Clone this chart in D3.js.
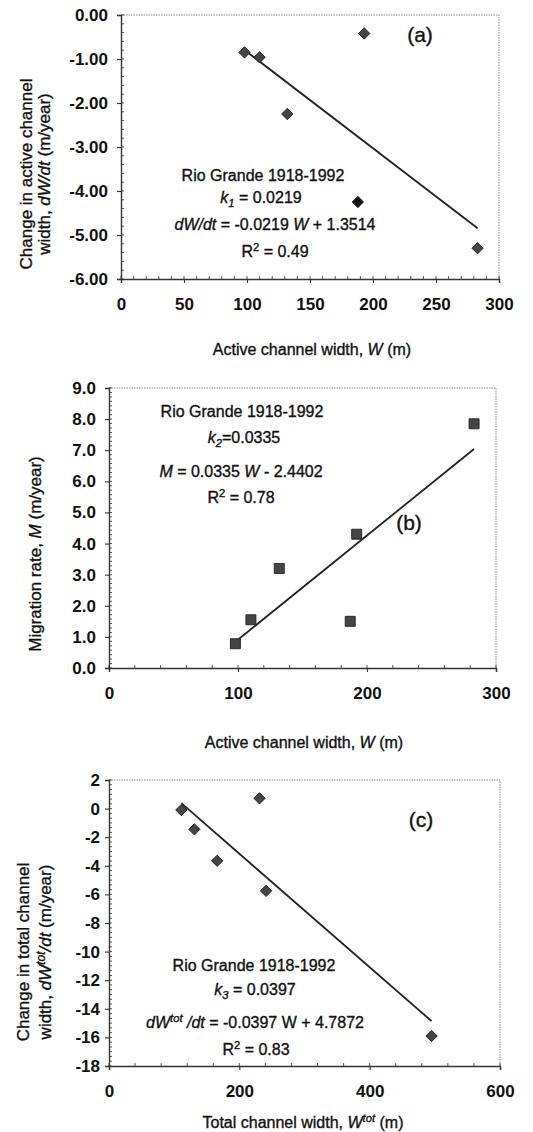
<!DOCTYPE html>
<html>
<head>
<meta charset="utf-8">
<script src="https://cdn.jsdelivr.net/npm/d3@7"></script>
<style>
  body { margin: 0; background: #fff; }
  svg { font-family: Arial, "Liberation Sans", sans-serif; fill: #111; }
</style>
</head>
<body>
<svg id="chart" width="533" height="1132"></svg>
<script>
// panel (a): active channel width vs change in width
var widthA = [98, 110, 132, 193, 188, 283];
var dWdtA = [-0.85, -0.96, -2.25, -0.42, -4.25, -5.30];
// panel (b): active channel width vs migration rate
var widthB = [98, 110, 132, 187, 192, 283];
var migrationB = [0.78, 1.55, 3.2, 1.5, 4.3, 7.85];
// panel (c): total channel width vs change in total width
var widthTotC = [111, 131, 166, 231, 241, 495];
var dWtotdtC = [-0.1, -1.45, -3.65, 0.72, -5.75, -15.9];

// regression lines: slope, intercept
var slopes = [-0.0219, 0.0335, -0.0397];
var intercepts = [1.3514, -2.4402, 4.7872];

var xTicksA = [0, 50, 100, 150, 200, 250, 300];
var yTicksA = [0, -1, -2, -3, -4, -5, -6];
var xTicksB = [0, 100, 200, 300];
var yTicksB = [0, 1, 2, 3, 4, 5, 6, 7, 8, 9];
var xTicksC = [0, 200, 400, 600];
var yTicksC = [2, 0, -2, -4, -6, -8, -10, -12, -14, -16, -18];

var svg = d3.select("#chart");

// write a line of text made of styled pieces (italic, sub, sup)
function rich(sel, parts) {
    var shift = 0;
    parts.forEach(function(p) {
        var t = sel.append("tspan").text(p.t);
        var want = p.sub ? 4 : (p.sup ? -6 : 0);
        if (want != shift) { t.attr("dy", want - shift); shift = want; }
        if (p.i) t.style("font-style", "italic");
        if (p.sub || p.sup) t.attr("font-size", "0.7em");
    });
    return sel;
}

function heavy(sel) {
    return sel.attr("fill", "#111").attr("stroke", "#111").attr("stroke-width", 0.35);
}

function panel(o) {
    var x = d3.scaleLinear().domain(o.xDomain).range([o.left, o.right]);
    var y = d3.scaleLinear().domain(o.yDomain).range([o.bottom, o.top]);
    var g = svg.append("g");

    // frame: light top/right
    g.append("path")
        .attr("d", "M" + o.left + "," + o.top + "H" + o.right + "V" + o.bottom)
        .attr("fill", "none").attr("stroke", "#8a8a8a").attr("stroke-width", 1)
        .attr("stroke-dasharray", "1.5,1");

    // minor ticks, inside
    var xMinor = d3.range(o.xDomain[0], o.xDomain[1] + 1e-9, o.xMinor);
    var yStep = (o.yTicks[1] - o.yTicks[0]) / o.yMinorN;
    var yMinor = d3.range(0, Math.round((o.yDomain[1] - o.yDomain[0]) / Math.abs(yStep)) + 1)
        .map(function(k) { return o.yDomain[0] + k * Math.abs(yStep); });
    g.selectAll(".xm").data(xMinor).enter().append("line")
        .attr("x1", function(d) { return x(d); }).attr("x2", function(d) { return x(d); })
        .attr("y1", o.bottom).attr("y2", o.bottom - 3)
        .attr("stroke", "#444").attr("stroke-width", 0.9);
    g.selectAll(".ym").data(yMinor).enter().append("line")
        .attr("y1", function(d) { return y(d); }).attr("y2", function(d) { return y(d); })
        .attr("x1", o.left).attr("x2", o.left + 3)
        .attr("stroke", "#444").attr("stroke-width", 0.9);

    // axes
    var xAxis = g.append("g").attr("transform", "translate(0," + o.bottom + ")")
        .call(d3.axisBottom(x).tickValues(o.xTicks).tickSize(4).tickPadding(o.xPad).tickFormat(d3.format("d")));
    var yAxis = g.append("g").attr("transform", "translate(" + o.left + ",0)")
        .call(d3.axisLeft(y).tickValues(o.yTicks).tickSize(4).tickPadding(o.yPad).tickFormat(d3.format(o.yFormat)));
    [xAxis, yAxis].forEach(function(a) {
        a.select(".domain").attr("stroke", "#333").attr("stroke-width", 1.4);
        a.selectAll(".tick line").attr("stroke", "#333").attr("stroke-width", 1.1);
        a.selectAll("text").attr("font-size", 17).attr("font-weight", "bold")
            .attr("fill", "#111").attr("font-family", "Arial, 'Liberation Sans', sans-serif");
    });
    yAxis.selectAll(".tick text").text(function(d) { return d3.format(o.yFormat)(d).replace("\u2212", "-"); });

    // trend line over the data range
    var xs = d3.extent(o.xs);
    var line = d3.line().x(function(d) { return x(d); }).y(function(d) { return y(o.slope * d + o.intercept); });
    g.append("path").datum(xs).attr("d", line)
        .attr("fill", "none").attr("stroke", "#222").attr("stroke-width", 1.8);

    // markers
    var sym = d3.symbol().type(d3.symbolSquare).size(o.square ? 100 : 64);
    g.selectAll(".pt").data(o.xs).enter().append("path")
        .attr("d", sym)
        .attr("transform", function(d, i) {
            return "translate(" + x(d) + "," + y(o.ys[i]) + ")" + (o.square ? "" : " rotate(45)");
        })
        .attr("fill", function(d, i) { return i == o.dark ? "#111" : "#454545"; })
        .attr("stroke", "#222").attr("stroke-width", 0.9);

    // annotation lines
    o.notes.forEach(function(n) {
        var t = g.append("text").attr("x", n.x).attr("y", n.y)
            .attr("text-anchor", "middle").attr("font-size", 16);
        heavy(rich(t, n.parts));
    });
    heavy(g.append("text").attr("x", o.tag[0]).attr("y", o.tag[1]).attr("text-anchor", "middle")
        .attr("font-size", 21).text(o.tag[2]));

    // axis titles
    var xt = g.append("text").attr("x", o.xTitle.x).attr("y", o.xTitle.y)
        .attr("text-anchor", "middle").attr("font-size", 16);
    heavy(rich(xt, o.xTitle.parts));
    o.yTitle.forEach(function(l) {
        var t = g.append("text")
            .attr("transform", "translate(" + l.x + "," + l.y + ") rotate(-90)")
            .attr("text-anchor", "middle").attr("font-size", 17);
        heavy(rich(t, l.parts));
    });
}

panel({
    left: 121, right: 499, top: 15, bottom: 279,
    xDomain: [0, 300], yDomain: [-6, 0], xTicks: xTicksA, yTicks: yTicksA,
    xMinor: 10, yMinorN: 5, yFormat: ".2f", xPad: 15, yPad: 9,
    xs: widthA, ys: dWdtA, dark: 4, slope: slopes[0], intercept: intercepts[0],
    tag: [420, 42, "(a)"],
    notes: [
        {x: 263, y: 181, parts: [{t: "Rio Grande 1918-1992"}]},
        {x: 261, y: 203, parts: [{t: "k", i: 1}, {t: "1", i: 1, sub: 1}, {t: " = 0.0219"}]},
        {x: 275, y: 230, parts: [{t: "dW/dt", i: 1}, {t: " = -0.0219 "}, {t: "W", i: 1}, {t: " + 1.3514"}]},
        {x: 275, y: 257, parts: [{t: "R"}, {t: "2", sup: 1}, {t: " = 0.49"}]}
    ],
    xTitle: {x: 312, y: 355, parts: [{t: "Active channel width, "}, {t: "W", i: 1}, {t: " (m)"}]},
    yTitle: [
        {x: 32, y: 174, parts: [{t: "Change in active channel"}]},
        {x: 50, y: 174, parts: [{t: "width, "}, {t: "dW/dt", i: 1}, {t: "  (m/year)"}]}
    ]
});

panel({
    left: 109, right: 496, top: 388, bottom: 668,
    xDomain: [0, 300], yDomain: [0, 9], xTicks: xTicksB, yTicks: yTicksB,
    xMinor: 20, yMinorN: 7, yFormat: ".1f", xPad: 15, yPad: 9,
    xs: widthB, ys: migrationB, square: true, dark: -1, slope: slopes[1], intercept: intercepts[1],
    tag: [409, 530, "(b)"],
    notes: [
        {x: 242, y: 417, parts: [{t: "Rio Grande 1918-1992"}]},
        {x: 244, y: 443, parts: [{t: "k", i: 1}, {t: "2", i: 1, sub: 1}, {t: "=0.0335"}]},
        {x: 241, y: 477, parts: [{t: "M", i: 1}, {t: " = 0.0335 "}, {t: "W", i: 1}, {t: " - 2.4402"}]},
        {x: 241, y: 503, parts: [{t: "R"}, {t: "2", sup: 1}, {t: " = 0.78"}]}
    ],
    xTitle: {x: 304, y: 748, parts: [{t: "Active channel width, "}, {t: "W", i: 1}, {t: " (m)"}]},
    yTitle: [
        {x: 41, y: 554, parts: [{t: "Migration rate, "}, {t: "M", i: 1}, {t: "  (m/year)"}]}
    ]
});

panel({
    left: 109, right: 500, top: 780, bottom: 1066,
    xDomain: [0, 600], yDomain: [-18, 2], xTicks: xTicksC, yTicks: yTicksC,
    xMinor: 40, yMinorN: 6, yFormat: "d", xPad: 15, yPad: 5,
    xs: widthTotC, ys: dWtotdtC, dark: -1, slope: slopes[2], intercept: intercepts[2],
    tag: [421, 827, "(c)"],
    notes: [
        {x: 254, y: 971, parts: [{t: "Rio Grande 1918-1992"}]},
        {x: 255, y: 995, parts: [{t: "k", i: 1}, {t: "3", i: 1, sub: 1}, {t: " = 0.0397"}]},
        {x: 255, y: 1028, parts: [{t: "dW", i: 1}, {t: "tot", i: 1, sup: 1}, {t: " /dt", i: 1}, {t: " = -0.0397 W + 4.7872"}]},
        {x: 256, y: 1055, parts: [{t: "R"}, {t: "2", sup: 1}, {t: " = 0.83"}]}
    ],
    xTitle: {x: 303, y: 1128, parts: [{t: "Total channel width, "}, {t: "W", i: 1}, {t: "tot", i: 1, sup: 1}, {t: "  (m)"}]},
    yTitle: [
        {x: 29, y: 952, parts: [{t: "Change in total channel"}]},
        {x: 51, y: 952, parts: [{t: "width, "}, {t: "dW", i: 1}, {t: "tot", i: 1, sup: 1}, {t: "/dt", i: 1}, {t: " (m/year)"}]}
    ]
});
</script>
</body>
</html>
